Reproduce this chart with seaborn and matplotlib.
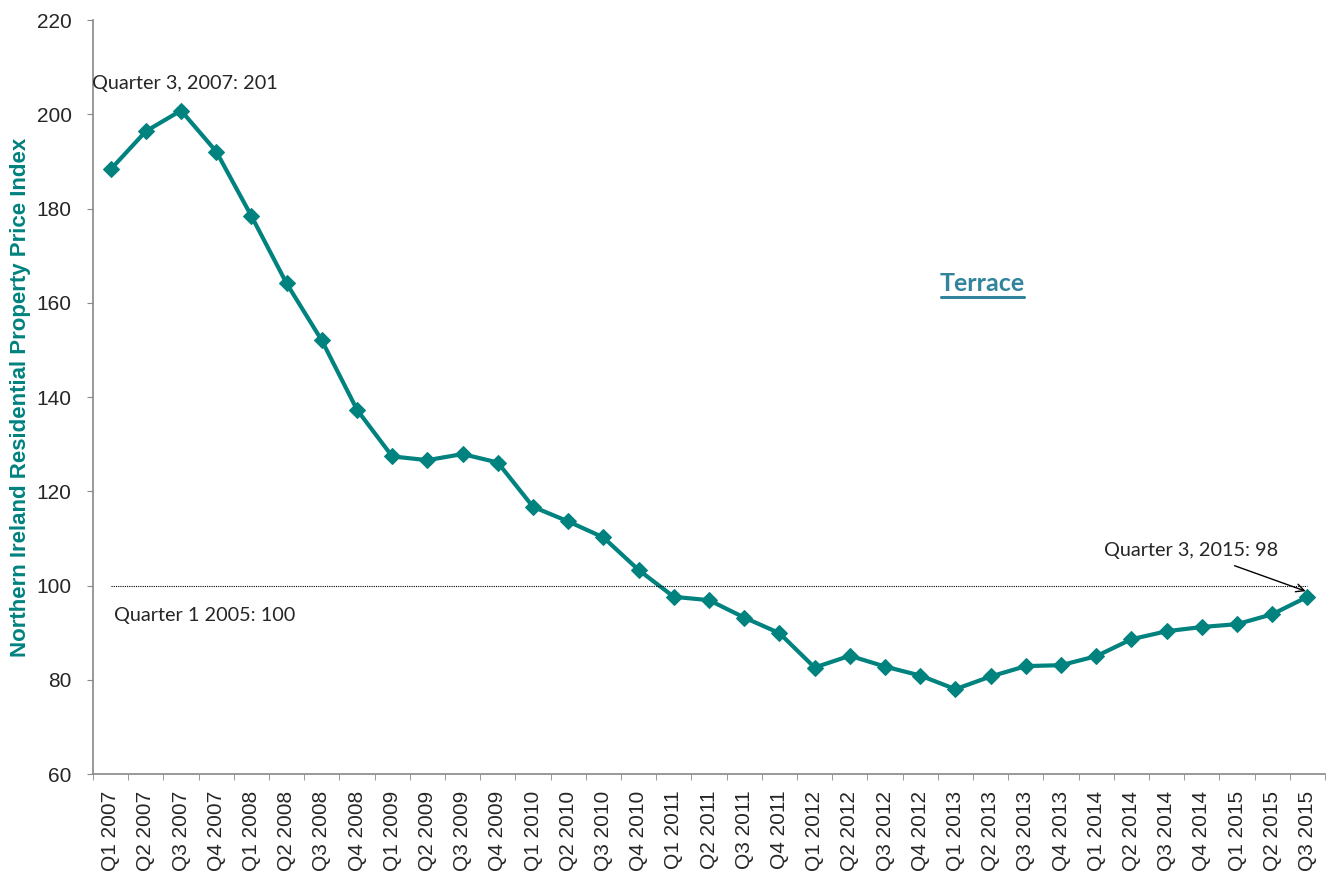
import matplotlib
matplotlib.use("Agg")
import matplotlib.pyplot as plt
import seaborn as sns
import pandas as pd
from matplotlib.lines import Line2D

quarters = ["Q1 2007", "Q2 2007", "Q3 2007", "Q4 2007",
            "Q1 2008", "Q2 2008", "Q3 2008", "Q4 2008",
            "Q1 2009", "Q2 2009", "Q3 2009", "Q4 2009",
            "Q1 2010", "Q2 2010", "Q3 2010", "Q4 2010",
            "Q1 2011", "Q2 2011", "Q3 2011", "Q4 2011",
            "Q1 2012", "Q2 2012", "Q3 2012", "Q4 2012",
            "Q1 2013", "Q2 2013", "Q3 2013", "Q4 2013",
            "Q1 2014", "Q2 2014", "Q3 2014", "Q4 2014",
            "Q1 2015", "Q2 2015", "Q3 2015"]
terrace_index = [188.3, 196.4, 200.8, 192.1,
                 178.4, 164.1, 152.0, 137.3,
                 127.4, 126.6, 127.9, 126.1,
                 116.7, 113.6, 110.2, 103.3,
                 97.6, 96.9, 93.2, 89.9,
                 82.6, 85.1, 82.8, 80.9,
                 78.0, 80.7, 82.9, 83.1,
                 85.0, 88.6, 90.3, 91.2,
                 91.8, 93.9, 97.6]
baseline_value = 100
y_ticks = [60, 80, 100, 120, 140, 160, 180, 200, 220]

line_color = "#00827F"
df = pd.DataFrame({"pos": range(len(quarters)), "value": terrace_index})

sns.set_style("white")
plt.rcParams["font.family"] = ["Liberation Sans", "DejaVu Sans"]

fig = plt.figure(figsize=(13.31, 8.75), dpi=100)
ax = fig.add_axes([0.0699, 0.1154, 0.9256, 0.8617])

sns.lineplot(data=df, x="pos", y="value", ax=ax, color=line_color,
             linewidth=3, marker="D", markersize=8, markeredgecolor=line_color)

ax.plot([0, len(quarters) - 1], [baseline_value, baseline_value],
        linestyle=(0, (1, 1)), color="black", linewidth=0.8)

ax.set_xlim(-0.5, len(quarters) - 0.5)
ax.set_ylim(y_ticks[0], y_ticks[-1])
ax.set_yticks(y_ticks)
ax.set_yticklabels([str(t) for t in y_ticks], fontsize=15)
ax.set_xticks(range(len(quarters)))
ax.set_xticklabels(quarters, rotation=90, fontsize=15)
ax.set_xticks([i - 0.5 for i in range(len(quarters) + 1)], minor=True)
ax.tick_params(axis="x", which="major", length=0, pad=12)
ax.tick_params(axis="x", which="minor", length=4.5, color="#888888", direction="out", bottom=True)
ax.tick_params(axis="y", length=4.5, color="#888888", direction="out", left=True, pad=11)

for s in ["top", "right"]:
    ax.spines[s].set_visible(False)
for s in ["left", "bottom"]:
    ax.spines[s].set_color("#888888")
    ax.spines[s].set_linewidth(1.2)

ax.set_xlabel("")
ax.set_ylabel("Northern Ireland Residential Property Price Index",
              fontsize=16, fontweight="bold", color=line_color, labelpad=4)

ann_font = ["Lato", "DejaVu Sans"]
peak_i = 2
ax.text(peak_i + 0.1, 206.5, f"Quarter 3, 2007: {terrace_index[peak_i]:.0f}",
        ha="center", va="center", fontsize=14.3, family=ann_font)
ax.text(0.1, 93.6, f"Quarter 1 2005: {baseline_value}", ha="left", va="center",
        fontsize=14.3, family=ann_font)
last_i = len(quarters) - 1
ax.annotate(f"Quarter 3, 2015: {terrace_index[last_i]:.0f}",
            xy=(last_i - 0.05, terrace_index[last_i] + 1.2),
            xytext=(last_i - 3.3, 107.5), ha="center", va="center",
            fontsize=14.3, family=ann_font,
            arrowprops=dict(arrowstyle="->", color="black", lw=1,
                            shrinkA=8, shrinkB=0))

ax.text(0.722, 0.650, "Terrace", transform=ax.transAxes, ha="center", va="center",
        fontsize=18, fontweight="bold", color="#31849B", family=ann_font)
ax.add_line(Line2D([0.688, 0.7557], [0.633, 0.633], transform=ax.transAxes,
                   color="#31849B", linewidth=2.2))

fig.savefig("out.png", dpi=100)
